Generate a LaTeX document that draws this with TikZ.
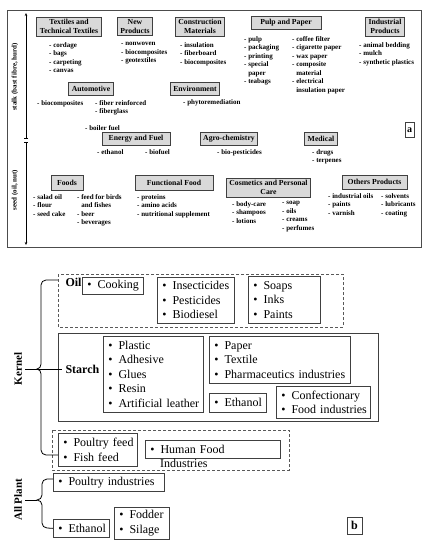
\documentclass[tikz,border=0pt]{standalone}
\usepackage{fontspec}
\setmainfont{Liberation Serif}
\usepackage{tikz}
\usetikzlibrary{arrows.meta}

\begin{document}
\begin{tikzpicture}[x=1pt, y=-1pt,
  hd/.style={draw=black!75, fill=black!15, line width=0.9pt, font=\fontsize{7.7}{9.5}\selectfont\bfseries, align=center, inner xsep=3pt, inner ysep=2pt, minimum height=13pt},
  itm/.style={anchor=north west, inner sep=0pt, font=\fontsize{7}{8.5}\selectfont\bfseries, align=left},
  bx/.style={draw=black!75, line width=0.7pt, anchor=north west, font=\fontsize{12}{14.5}\selectfont, align=left, inner xsep=5pt, inner ysep=0pt, execute at begin node={\hyphenpenalty=10000\exhyphenpenalty=10000\hbadness=10000\hfuzz=20pt}},
  dbox/.style={draw=black!65, line width=0.8pt, dash pattern=on 3pt off 2pt},
  lbl/.style={font=\fontsize{12}{14.5}\selectfont\bfseries},
  side/.style={rotate=90, font=\fontsize{7}{8}\selectfont\bfseries}]

\useasboundingbox (0,0) rectangle (434,550);

\draw[black!70, line width=0.8pt] (7,10) rectangle (421,247);
\coordinate (ax1) at (26,13);
\coordinate (ax2) at (26,138.5);
\coordinate (ax3) at (26,141.5);
\coordinate (ax4) at (26,245);
\draw[{Bar[width=4pt]}-{Stealth[length=3pt,width=2.5pt]}, line width=0.6pt] (ax2) -- (ax1);
\draw[{Bar[width=4pt]}-{Stealth[length=3pt,width=2.5pt]}, line width=0.6pt] (ax3) -- (ax4);
\node[side] (stalk) at (15,77) {stalk (bast fibre, hurd)};
\node[side] (seed) at (15,190) {seed (oil, nut)};

\node[hd] (tex) at (69,26.5) {Textiles and\\Technical Textiles};
\node[hd] (newp) at (135,26.5) {New\\Products};
\node[hd] (cons) at (200,26.5) {Construction\\Materials};
\node[hd, minimum width=70pt] (pulp) at (286,22.5) {Pulp and Paper};
\node[hd] (indp) at (385,26.5) {Industrial\\Products};
\node[hd] (auto) at (91,89) {Automotive};
\node[hd] (envi) at (195,89) {Environment};
\node[hd, minimum width=68pt] (enf) at (136,139) {Energy and Fuel};
\node[hd] (agro) at (229,139) {Agro-chemistry};
\node[hd] (medi) at (321,139) {Medical};
\node[hd, minimum width=32pt, minimum height=15pt] (food) at (67,182.5) {Foods};
\node[hd, minimum width=78pt, minimum height=15pt] (ffood) at (174,182.5) {Functional Food};
\node[hd] (cosm) at (268.5,187.5) {Cosmetics and Personal\\Care};
\node[hd, minimum width=65pt, minimum height=14pt] (othp) at (374.5,182) {Others Products};

\node[itm] (texl) at (49,42) {- cordage\\- bags\\- carpeting\\- canvas};
\node[itm] (newl) at (121,42) {- nonwoven\\- biocomposites\\- geotextiles};
\node[itm] (consl) at (180,42) {- insulation\\- fiberboard\\- biocomposites};
\node[itm] (pulpa) at (244,36) {- pulp\\- packaging\\- printing\\- special\\\phantom{- }paper\\- teabags};
\node[itm] (pulpb) at (292,36) {- coffee filter\\- cigarette paper\\- wax paper\\- composite\\\phantom{- }material\\- electrical\\\phantom{- }insulation paper};
\node[itm] (indl) at (359,42) {- animal bedding\\- mulch\\- synthetic plastics};
\node[itm] (autoa) at (37,100) {- biocomposites};
\node[itm] (autob) at (95,100) {- fiber reinforced\\- fiberglass};
\node[itm] (envl) at (183,99) {- phytoremediation};
\node[itm] (boil) at (85,125) {- boiler fuel};
\node[itm] (enfa) at (97,149) {- ethanol};
\node[itm] (enfb) at (145,149) {- biofuel};
\node[itm] (agrol) at (217,149) {- bio-pesticides};
\node[itm] (medl) at (312,149) {- drugs\\- terpenes};
\node[itm] (fooda) at (33,194) {- salad oil\\- flour\\- seed cake};
\node[itm] (foodb) at (77,194) {- feed for birds\\\phantom{- }and fishes\\- beer\\- beverages};
\node[itm] (ffoodl) at (137,194) {- proteins\\- amino acids\\- nutritional supplement};
\node[itm] (cosma) at (232,201) {- body-care\\- shampoos\\- lotions};
\node[itm] (cosmb) at (282,201) {- soap\\- oils\\- creams\\- perfumes};
\node[itm] (otha) at (328,193) {- industrial oils\\- paints\\- varnish};
\node[itm] (othb) at (381,193) {- solvents\\- lubricants\\- coating};
\node[draw=black!75, line width=0.8pt, font=\fontsize{10}{12}\selectfont\bfseries, inner xsep=2pt, minimum height=15pt] (la) at (409.5,130) {a};

\draw[dbox] (58,274) rectangle (343,327);
\node[lbl, anchor=base west] (oil) at (62,286) {Oil};
\node[bx, text width=51pt, minimum height=17pt] (cook) at (82,277) {\textbullet\kern6pt Cooking};
\node[bx, text width=67pt, minimum height=46pt] (insect) at (157,277) {\textbullet\kern6pt Insecticides\\\textbullet\kern6pt Pesticides\\\textbullet\kern6pt Biodiesel};
\node[bx, text width=62pt, minimum height=47pt] (soap) at (248,276) {\textbullet\kern6pt Soaps\\\textbullet\kern6pt Inks\\\textbullet\kern6pt Paints};

\draw[black!75, line width=0.7pt] (58,333) rectangle (378,421);
\node[lbl, anchor=base west] (starch) at (62,373) {Starch};
\node[bx, text width=90pt, minimum height=76pt] (plas) at (103,336) {\textbullet\kern6pt Plastic\\\textbullet\kern6pt Adhesive\\\textbullet\kern6pt Glues\\\textbullet\kern6pt Resin\\\textbullet\kern6pt Artificial~leather};
\node[bx, text width=131pt, minimum height=47pt] (pap) at (209,336) {\textbullet\kern6pt Paper\\\textbullet\kern6pt Textile\\\textbullet\kern6pt Pharmaceutics~industries};
\node[bx, text width=47pt, minimum height=19pt] (etha) at (209,393) {\textbullet\kern6pt Ethanol};
\node[bx, text width=84pt, minimum height=32pt] (conf) at (276,386) {\textbullet\kern6pt Confectionary\\\textbullet\kern6pt Food~industries};

\draw[dbox] (52,430) rectangle (289,470);
\node[bx, text width=69pt, minimum height=33pt] (pfeed) at (58,433) {\textbullet\kern6pt Poultry~feed\\\textbullet\kern6pt Fish~feed};
\node[bx, text width=125pt, minimum height=18pt] (hfood) at (145,440) {\textbullet\kern6pt Human~Food};
\node[anchor=base west, inner sep=0pt, font=\fontsize{12}{14.5}\selectfont] (hfoodb) at (160,467.5) {Industries};

\node[lbl, rotate=90, font=\fontsize{11}{13}\selectfont\bfseries] (kern) at (18,369) {Kernel};
\node[lbl, rotate=90, font=\fontsize{11}{13}\selectfont\bfseries] (allp) at (18,500) {All Plant};

\node[bx, text width=101pt, minimum height=18pt] (pind) at (53,473) {\textbullet\kern6pt Poultry~industries};
\node[bx, text width=46pt, minimum height=18pt] (ethb) at (53,519) {\textbullet\kern6pt Ethanol};
\node[bx, text width=45pt, minimum height=32pt] (fod) at (114,507) {\textbullet\kern6pt Fodder\\\textbullet\kern6pt Silage};
\node[draw=black!75, line width=0.8pt, font=\fontsize{12}{14}\selectfont\bfseries, minimum width=15pt, minimum height=17pt, inner sep=0pt] (lb) at (354.5,525.5) {b};

\coordinate (kt) at (58,280);
\coordinate (kb) at (58,455);
\coordinate (kc) at (37,369);
\coordinate (at) at (53,479);
\coordinate (ac) at (37,500);
\draw[line width=0.8pt] (kt) -- (46,280) to[out=180,in=90] (41,285) -- (41,364) to[out=-90,in=0] (kc) to[out=0,in=90] (41,374) -- (41,450) to[out=-90,in=180] (46,455) -- (kb);
\draw[line width=0.8pt] (kern.south) -- (kern.south -| starch.west);
\draw[line width=0.8pt] (at) -- (47,479) to[out=180,in=90] (42,484) -- (42,495) to[out=-90,in=0] (ac) to[out=0,in=90] (42,505) -- (42,523) to[out=-90,in=180] (47,528) -- (ethb.west);
\draw[line width=0.8pt] (allp.south) -- (ac);
\end{tikzpicture}
\end{document}
